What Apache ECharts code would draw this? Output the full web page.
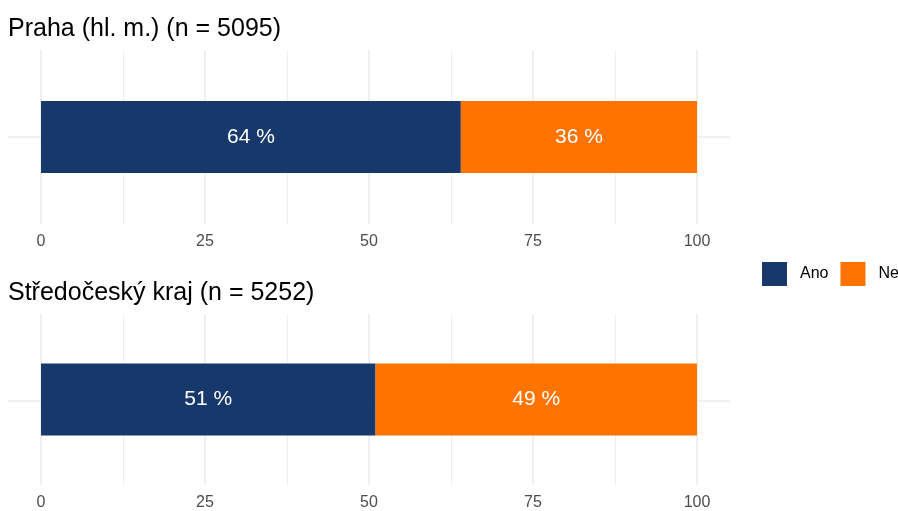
<!DOCTYPE html>
<html>
<head>
<meta charset="utf-8">
<script src="https://cdn.jsdelivr.net/npm/echarts@6/dist/echarts.min.js"></script>
<style>html,body{margin:0;padding:0;background:#fff}#c{width:898px;height:511px}</style>
</head>
<body>
<div id="c"></div>
<script>
var regions = ['Praha (hl. m.)', 'Středočeský kraj'];
var counts = [5095, 5252];
var seriesNames = ['Ano', 'Ne'];
var ano = [64, 51];
var ne = [36, 49];
var colors = ['#17386b', '#ff7400'];

var FONT = 'Liberation Sans, Arial, sans-serif';
var chart = echarts.init(document.getElementById('c'));
var panelTop = [50, 314];
var panelH = 174;

var grids = [], xAxes = [], yAxes = [], series = [], titles = [];
regions.forEach(function (r, i) {
  var top = panelTop[i];
  titles.push({
    text: r + ' (n = ' + counts[i] + ')',
    left: 3, top: top - 38,
    textStyle: {fontFamily: FONT, fontSize: 25, fontWeight: 'normal', color: '#000'}
  });
  grids.push({left: 41, width: 656, top: top, height: panelH});
  grids.push({left: 8, width: 722, top: top, height: panelH});
  var gb = i * 2, gh = i * 2 + 1;
  xAxes.push({
    type: 'value', gridIndex: gb, min: 0, max: 100, interval: 25,
    axisLine: {show: false}, axisTick: {show: false},
    axisLabel: {color: '#4d4d4d', fontSize: 16, fontFamily: FONT, margin: 10},
    splitLine: {show: true, lineStyle: {color: '#ebebeb', width: 1.5}},
    minorTick: {show: false, splitNumber: 2},
    minorSplitLine: {show: true, lineStyle: {color: '#ebebeb', width: 0.8}}
  });
  xAxes.push({
    type: 'value', gridIndex: gh, min: 0, max: 1, show: false
  });
  yAxes.push({
    type: 'category', gridIndex: gb, data: [r],
    axisLine: {show: false}, axisTick: {show: false}, axisLabel: {show: false},
    splitLine: {show: false}
  });
  yAxes.push({
    type: 'value', gridIndex: gh, min: 0, max: 2, interval: 1,
    axisLine: {show: false}, axisTick: {show: false}, axisLabel: {show: false},
    splitLine: {show: true, lineStyle: {color: ['rgba(0,0,0,0)', '#ebebeb', 'rgba(0,0,0,0)'], width: 1.5}}
  });
  var vals = [ano[i], ne[i]];
  seriesNames.forEach(function (name, k) {
    series.push({
      name: name, type: 'bar', stack: 'p' + i,
      xAxisIndex: gb, yAxisIndex: gb,
      barWidth: 72,
      itemStyle: {color: colors[k]},
      label: {show: true, position: 'inside', color: '#fff', fontSize: 21, fontFamily: FONT,
        formatter: function (p) { return p.value + ' %'; }},
      emphasis: {disabled: true},
      data: [vals[k]]
    });
  });
});

chart.setOption({
  animation: false,
  backgroundColor: '#fff',
  title: titles,
  legend: {
    data: seriesNames,
    orient: 'horizontal',
    left: 762, top: 262, width: 200, padding: 0,
    icon: 'rect', itemWidth: 25, itemHeight: 24, itemGap: 12,
    textStyle: {fontFamily: FONT, fontSize: 16, color: '#000', padding: [0, 0, 0, 8]}
  },
  grid: grids,
  xAxis: xAxes,
  yAxis: yAxes,
  series: series
});
</script>
</body>
</html>
